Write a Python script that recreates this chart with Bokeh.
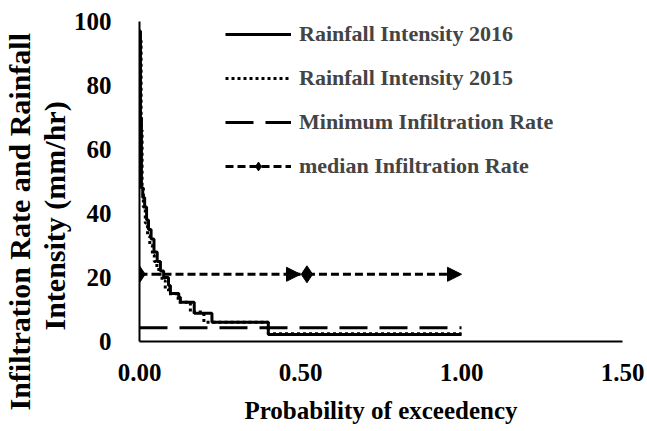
from bokeh.plotting import figure
from bokeh.models import (Range1d, FixedTicker, NumeralTickFormatter, Legend, LegendItem,
                          Arrow, NormalHead, ColumnDataSource, Title)
from bokeh.embed import file_html
from bokeh.resources import INLINE

# ---- data ----
x2016 = [0.000, 0.003, 0.006, 0.010, 0.016, 0.022, 0.028, 0.036, 0.045, 0.055, 0.065,
         0.075, 0.090, 0.096, 0.122, 0.127, 0.170, 0.225, 0.400, 1.000]
y2016 = [97, 70, 48, 45, 42, 38, 35, 32, 28, 25, 22, 20, 17.5, 15, 13.8, 12.3, 8.8, 6.0, 2.2, 2.2]

x2015 = [0.002, 0.005, 0.008, 0.012, 0.018, 0.025, 0.032, 0.040, 0.046, 0.054, 0.060,
         0.070, 0.080, 0.090, 0.120, 0.158, 0.200, 0.400, 1.000]
y2015 = [94, 66, 48, 42, 37, 33, 30, 27, 25, 23, 21, 19, 16.5, 14.9, 12.3, 9.2, 6.0, 2.4, 2.4]

min_x = [0.0, 1.0]
min_y = [4.3, 4.3]

median_x_start = [0.0, 0.52]
median_x_end = [0.50, 1.00]
median_y = [21, 21]

x_ticks = [0, 0.5, 1.0, 1.5]
y_ticks = [0, 20, 40, 60, 80, 100]

y_label_1 = "Infiltration Rate and Rainfall"
y_label_2 = "Intensity (mm/hr)"
x_label = "Probability of exceedency"

FONT = "Liberation Serif"

p = figure(width=647, height=431, output_backend="svg", toolbar_location=None,
           x_range=Range1d(0, 1.5), y_range=Range1d(0, 100),
           min_border_left=0, min_border_right=25, min_border_top=21, min_border_bottom=90)
p.outline_line_color = None
p.xgrid.visible = False
p.ygrid.visible = False

for ax in (p.xaxis[0], p.yaxis[0]):
    ax.major_tick_line_color = None
    ax.minor_tick_line_color = None
    ax.axis_line_width = 2
    ax.axis_line_color = "black"
    ax.major_label_text_font = FONT
    ax.major_label_text_font_style = "bold"
    ax.major_label_text_font_size = "25px"
    ax.major_label_text_color = "black"
    ax.axis_label_text_font = FONT
    ax.axis_label_text_font_style = "bold"
    ax.axis_label_text_color = "black"

p.xaxis.ticker = FixedTicker(ticks=x_ticks)
p.yaxis.ticker = FixedTicker(ticks=y_ticks)
p.xaxis.formatter = NumeralTickFormatter(format="0.00")
p.xaxis.major_label_standoff = 16
p.yaxis.major_label_standoff = 22
p.xaxis.axis_label = x_label
p.xaxis.axis_label_text_font_size = "25px"
p.xaxis.axis_label_standoff = 13

# two-line y label, placed as left titles so its vertical position can match
t2 = Title(text=y_label_2, align="left", offset=11, standoff=0,
           text_font=FONT, text_font_style="bold", text_font_size="30px", text_color="black")
t1 = Title(text=y_label_1, align="left", offset=-69, standoff=0,
           text_font=FONT, text_font_style="bold", text_font_size="30px", text_color="black")
p.add_layout(t2, "left")
p.add_layout(t1, "left")

r16 = p.step(x2016, y2016, mode="after", line_color="black", line_width=3)
r15 = p.step(x2015, y2015, mode="after", line_color="black", line_width=3, line_dash="3 3")
rmin = p.line(min_x, min_y, line_color="black", line_width=3, line_dash="28 12")

med_src = ColumnDataSource(dict(xs=[[a, b] for a, b in zip(median_x_start, median_x_end)],
                                ys=[[y, y] for y in median_y]))
rmed = p.multi_line("xs", "ys", source=med_src, line_color="black", line_width=3, line_dash="8 4")
rdia = p.scatter(median_x_start, median_y, marker="diamond", size=17, color="black")
for xs, xe, yy in zip(median_x_start, median_x_end, median_y):
    p.add_layout(Arrow(x_start=xs, y_start=yy, x_end=xe, y_end=yy, line_alpha=0,
                       end=NormalHead(size=14, fill_color="black", line_color="black")))

legend = Legend(items=[
    LegendItem(label="Rainfall Intensity 2016", renderers=[r16]),
    LegendItem(label="Rainfall Intensity 2015", renderers=[r15]),
    LegendItem(label="Minimum Infiltration Rate", renderers=[rmin]),
    LegendItem(label="median Infiltration Rate", renderers=[rmed, rdia]),
], location=(86, 162))
legend.label_text_font = FONT
legend.label_text_font_style = "bold"
legend.label_text_font_size = "22px"
legend.glyph_width = 66
legend.glyph_height = 22
legend.label_height = 22
legend.spacing = 18
legend.padding = 0
legend.margin = 0
legend.label_standoff = 8
legend.border_line_alpha = 0
legend.background_fill_alpha = 0
p.add_layout(legend)

open("out.html", "w").write(file_html(p, INLINE))
